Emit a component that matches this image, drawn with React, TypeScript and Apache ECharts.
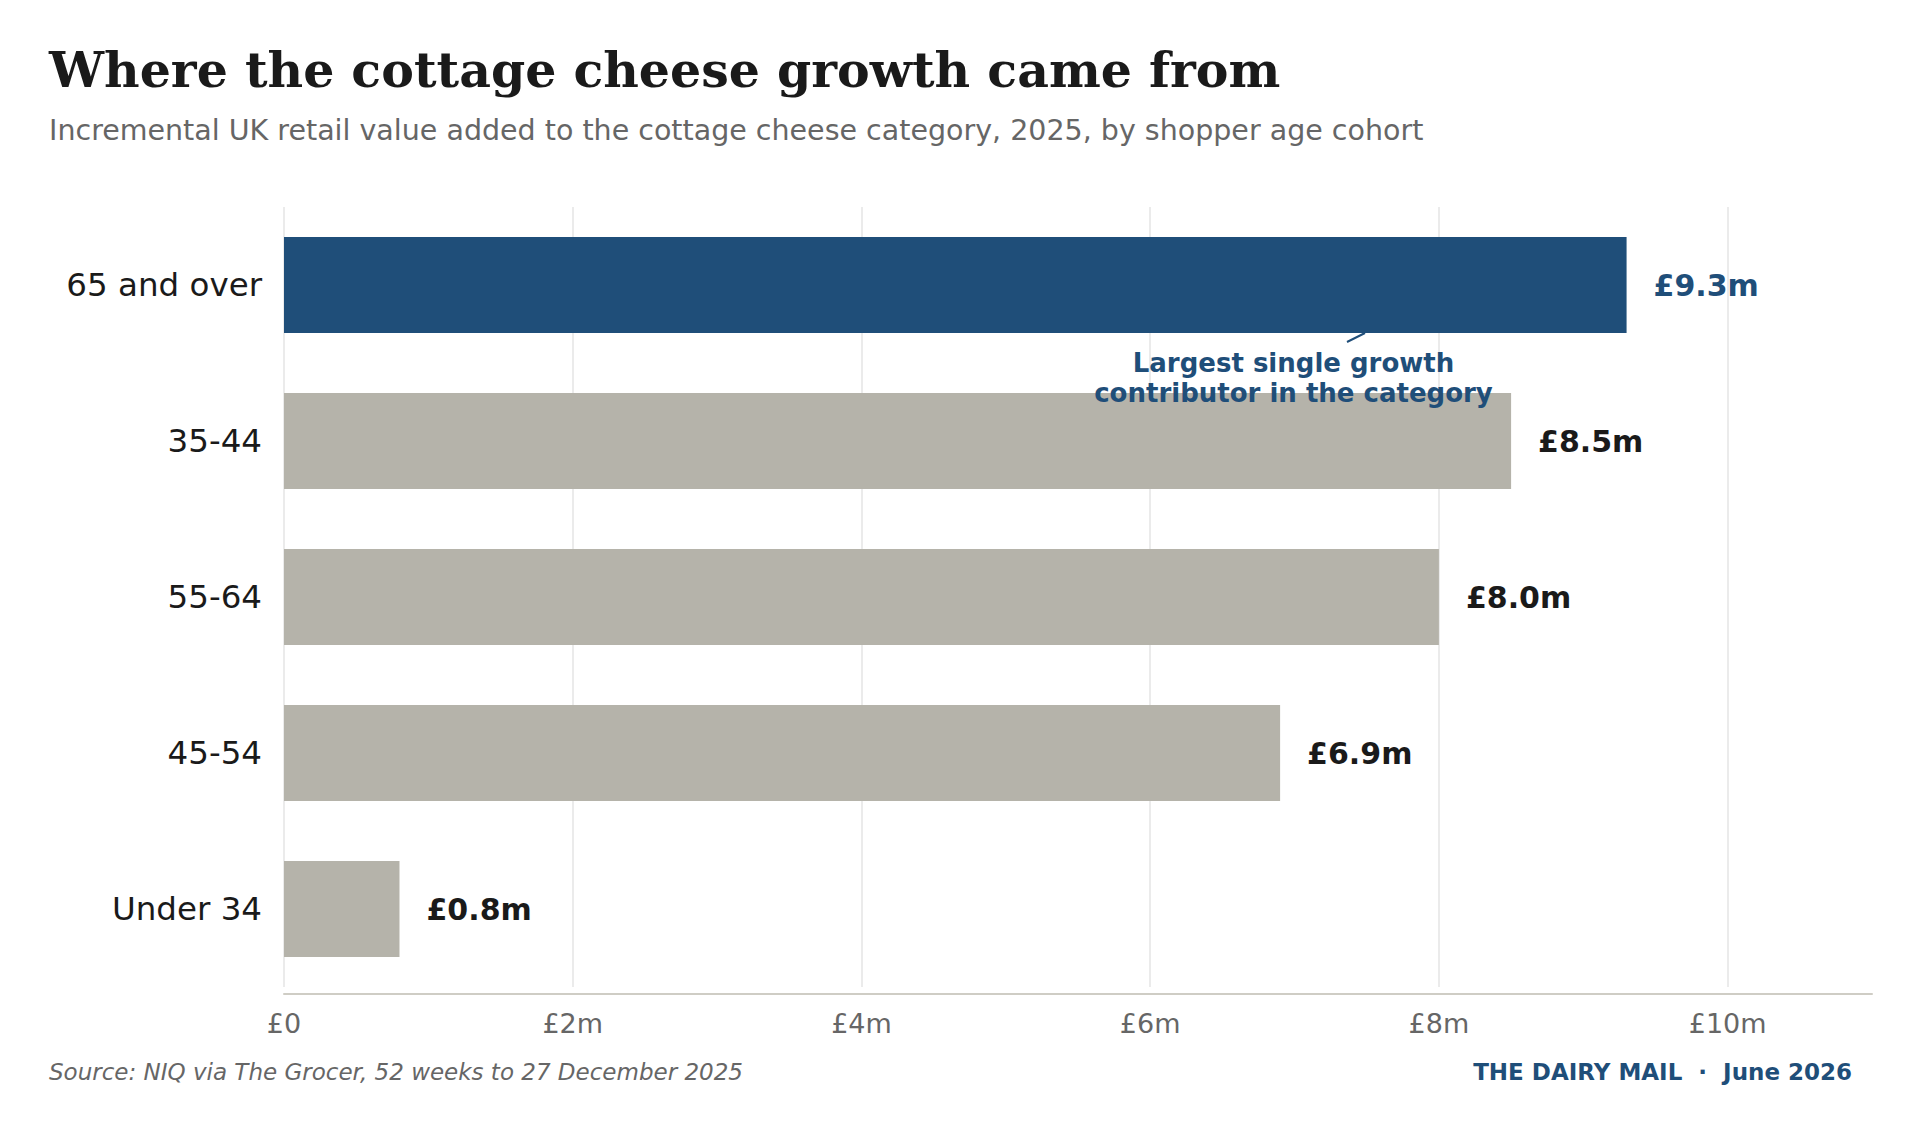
import React, { useEffect, useRef } from "react";
import * as echarts from "echarts";

const categories = ["65 and over", "35-44", "55-64", "45-54", "Under 34"];
const values = [9.3, 8.5, 8.0, 6.9, 0.8];
const highlightIndex = 0;
const xTicks = [0, 2, 4, 6, 8, 10];
const xMax = 11;

const BLUE = "#1f4e79";
const GREY = "#b5b3aa";
const SANS = "DejaVu Sans";
const SERIF = "DejaVu Serif";

const fmtTick = (v: number) => (v === 0 ? "£0" : xTicks.includes(v) ? `£${v}m` : "");

export default function App() {
  const ref = useRef<HTMLDivElement>(null);
  useEffect(() => {
    if (!ref.current) return;
    const chart = echarts.init(ref.current, null, { renderer: "svg" });
    chart.setOption({
      animation: false,
      backgroundColor: "#ffffff",
      grid: { left: 284, right: 48, top: 207, bottom: 145, containLabel: false },
      xAxis: {
        type: "value",
        min: 0,
        max: xMax,
        interval: 2,
        offset: 7,
        axisLine: { show: true, lineStyle: { color: "#cfcdc5", width: 2 } },
        axisTick: { show: false },
        splitLine: { show: true, showMaxLine: false, lineStyle: { color: "#e4e4e4", width: 1.5 } },
        axisLabel: {
          formatter: fmtTick,
          color: "#666666",
          fontFamily: SANS,
          fontSize: 27,
          margin: 16,
          showMaxLabel: false,
        },
      },
      yAxis: {
        type: "category",
        data: categories,
        inverse: true,
        axisLine: { show: false },
        axisTick: { show: false },
        splitLine: { show: false },
        axisLabel: { color: "#1a1a1a", fontFamily: SANS, fontSize: 32.5, margin: 22 },
      },
      series: [
        {
          type: "bar",
          data: values.map((v, i) => ({
            value: v,
            itemStyle: { color: i === highlightIndex ? BLUE : GREY },
            label: { color: i === highlightIndex ? BLUE : "#1a1a1a" },
          })),
          barWidth: "61.5%",
          label: {
            show: true,
            position: "right",
            distance: 27,
            fontFamily: SANS,
            fontWeight: "bold",
            fontSize: 30,
            formatter: (p: any) => `£${p.value.toFixed(1)}m`,
          },
        },
      ],
      graphic: [
        {
          type: "text",
          left: 49,
          top: 45,
          style: { text: "Where the cottage cheese growth came from", fontFamily: SERIF, fontWeight: "bold", fontSize: 49, fill: "#1a1a1a" },
        },
        {
          type: "text",
          left: 49,
          top: 116,
          style: {
            text: "Incremental UK retail value added to the cottage cheese category, 2025, by shopper age cohort",
            fontFamily: SANS,
            fontSize: 28.5,
            fill: "#666666",
          },
        },
        {
          type: "line",
          shape: { x1: 1347, y1: 342, x2: 1365, y2: 333 },
          style: { stroke: BLUE, lineWidth: 2 },
          z: 100,
        },
        {
          type: "text",
          x: 1293.5,
          y: 378,
          z: 100,
          style: {
            text: "Largest single growth\ncontributor in the category",
            fontFamily: SANS,
            fontWeight: "bold",
            fontSize: 26,
            lineHeight: 29.5,
            fill: BLUE,
            align: "center",
            verticalAlign: "middle",
          },
        },
        {
          type: "text",
          left: 49,
          top: 1060,
          style: {
            text: "Source: NIQ via The Grocer, 52 weeks to 27 December 2025",
            fontFamily: SANS,
            fontStyle: "italic",
            fontSize: 23,
            fill: "#666666",
          },
        },
        {
          type: "text",
          right: 68,
          top: 1060,
          style: {
            text: "THE DAIRY MAIL  ·  June 2026",
            fontFamily: SANS,
            fontWeight: "bold",
            fontSize: 23,
            fill: BLUE,
          },
        },
      ],
    });
    return () => chart.dispose();
  }, []);
  return (
    <div
      ref={ref}
      style={{ position: "fixed", left: 0, top: 0, width: 1920, height: 1132, background: "#fff" }}
    />
  );
}
